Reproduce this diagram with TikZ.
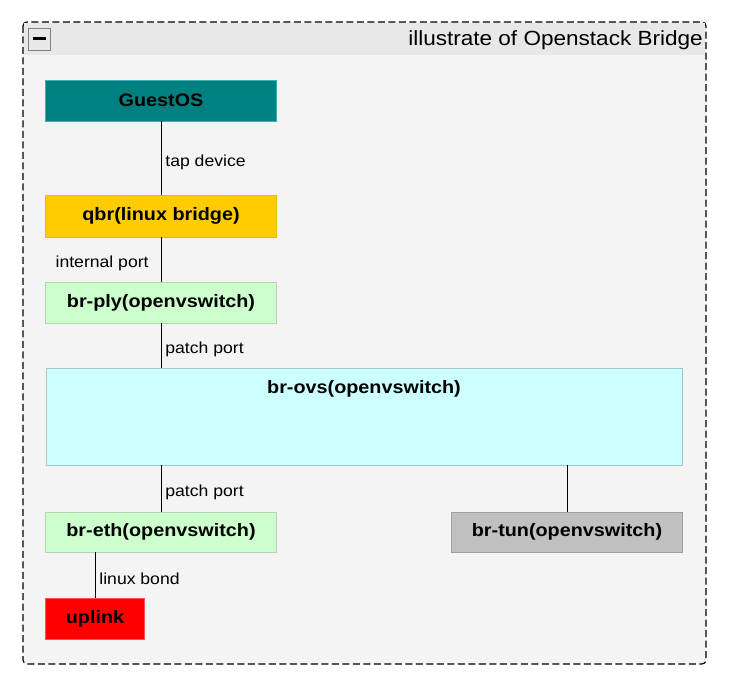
\documentclass[tikz,border=0pt]{standalone}
\usepackage{fontspec}
\setmainfont[FakeStretch=1.1]{Liberation Sans}
\definecolor{guestfill}{HTML}{008080}
\definecolor{guestline}{HTML}{40B0B0}
\definecolor{qbrfill}{HTML}{FFCC00}
\definecolor{qbrline}{HTML}{E8BC00}
\definecolor{ovsfill}{HTML}{CCFFCC}
\definecolor{ovsline}{HTML}{B4D4B4}
\definecolor{corefill}{HTML}{CCFFFF}
\definecolor{coreline}{HTML}{A8C8C8}
\definecolor{tunfill}{HTML}{C0C0C0}
\definecolor{tunline}{HTML}{A0A0A0}
\definecolor{upfill}{HTML}{FF0000}
\definecolor{upline}{HTML}{FF5050}
\definecolor{groupbody}{HTML}{F4F4F4}
\definecolor{grouphead}{HTML}{E8E8E8}

\begin{document}
\begin{tikzpicture}[x=1pt,y=-1pt]
    \tikzstyle{bridge}=[draw, line width=0.8pt, inner sep=0pt, minimum width=231, minimum height=41, font=\fontsize{18}{20}\selectfont\bfseries]
    \tikzstyle{port}=[inner sep=4pt, yshift=-4pt, font=\fontsize{16}{18}\selectfont]
    \tikzstyle{link}=[line width=0.8pt]
    \useasboundingbox (0,0) rectangle (737,684);
    \draw[fill=groupbody, rounded corners=4, line width=1.2pt, dash pattern=on 7pt off 3.5pt] (23,22) rectangle (706,664);
    \fill[grouphead] (24,23.5) rectangle (705,55);
    \node[draw=gray, fill=grouphead, line width=0.8pt, minimum size=22, inner sep=0pt] (toggle) at (39,39) {};
    \draw[line width=3pt] ([xshift=-6.5pt]toggle.center) -- ([xshift=6.5pt]toggle.center);
    \node[anchor=east, inner sep=0pt, font=\fontsize{20.5}{22}\selectfont] (title) at (703,40) {illustrate of Openstack Bridge};

    \node[bridge, fill=guestfill, draw=guestline] (guest) at (161,100.5) {GuestOS};
    \node[bridge, fill=qbrfill, draw=qbrline, minimum height=42] (qbr) at (161,216) {qbr(linux bridge)};
    \node[bridge, fill=ovsfill, draw=ovsline] (ply) at (161,302.5) {br-ply(openvswitch)};
    \node[bridge, fill=corefill, draw=coreline, minimum width=636, minimum height=97,
          label={[anchor=center, yshift=-21pt, font=\fontsize{18}{20}\selectfont\bfseries]north:br-ovs(openvswitch)}] (ovs) at (364,416.5) {};
    \node[bridge, fill=ovsfill, draw=ovsline, minimum height=40] (eth) at (161,532) {br-eth(openvswitch)};
    \node[bridge, fill=tunfill, draw=tunline, minimum height=40] (tun) at (567,532) {br-tun(openvswitch)};
    \node[bridge, fill=upfill, draw=upline, minimum width=99] (uplink) at (95,618.5) {uplink};

    \draw[link] (guest) -- node[port, right] (tap) {tap device} (qbr);
    \draw[link] (qbr) -- node[port, left=8pt] (internal) {internal port} (ply);
    \draw[link] (ply.south) -- node[port, right] (patchup) {patch port} (ply.south |- ovs.north);
    \draw[link] (eth.north) -- node[port, right] (patchdown) {patch port} (eth.north |- ovs.south);
    \draw[link] (tun.north) -- (tun.north |- ovs.south);
    \draw[link] (uplink.north) -- node[port, right] (bond) {linux bond} (uplink.north |- eth.south);
\end{tikzpicture}
\end{document}
